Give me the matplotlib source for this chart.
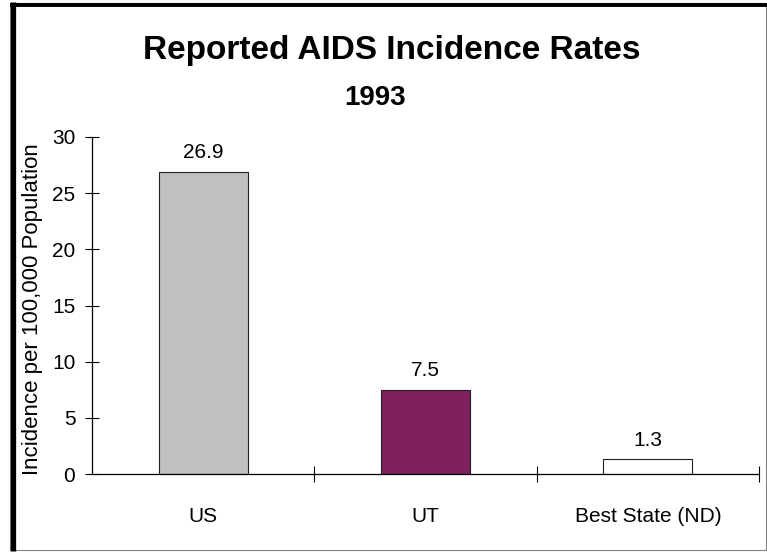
import matplotlib
matplotlib.use("Agg")
import matplotlib.pyplot as plt
from matplotlib.lines import Line2D
from matplotlib.patches import Rectangle

# incidence rates per 100,000 population, 1993
categories = ["US", "UT", "Best State (ND)"]
rates = [26.9, 7.5, 1.3]
bar_colors = ["#C0C0C0", "#80205F", "#FFFFFF"]
y_ticks = [0, 5, 10, 15, 20, 25, 30]

plt.rcParams["font.family"] = ["Liberation Sans", "DejaVu Sans"]

W, H = 767, 552
fig = plt.figure(figsize=(W / 100, H / 100), dpi=100)

# frame around the whole chart: thin outline, heavy left and top edges
fig.patches.append(Rectangle((10 / W, 1 - 550 / H), 756 / W, 547 / H,
                             transform=fig.transFigure, fill=False,
                             edgecolor="#808080", linewidth=0.8))
fig.lines.append(Line2D([12.5 / W, 12.5 / W], [1 - 551 / H, 1 - 2 / H],
                        transform=fig.transFigure, color="black", linewidth=3.8,
                        solid_capstyle="butt"))
fig.lines.append(Line2D([10 / W, 1], [1 - 4.5 / H, 1 - 4.5 / H],
                        transform=fig.transFigure, color="black", linewidth=2.8,
                        solid_capstyle="butt"))

fig.text(392 / W, 1 - 51 / H, "Reported AIDS Incidence Rates",
         ha="center", va="center", fontsize=24, fontweight="bold")
fig.text(375 / W, 1 - 98 / H, "1993",
         ha="center", va="center", fontsize=20, fontweight="bold")

ax = fig.add_axes([92 / W, 1 - 474 / H, (759 - 92) / W, (474 - 137) / H])
x = range(len(categories))
bars = ax.bar(x, rates, width=0.4, color=bar_colors,
              edgecolor="#202020", linewidth=0.8)
for b, v in zip(bars, rates):
    ax.annotate(f"{v}", (b.get_x() + b.get_width() / 2, v),
                xytext=(0, 7), textcoords="offset points",
                ha="center", va="bottom", fontsize=15)

ax.set_xlim(-0.5, 2.5)
ax.set_ylim(0, 30)
ax.set_yticks(y_ticks)
ax.set_xticks(list(x))
ax.set_xticklabels(categories, fontsize=15)
ax.set_xticks([0.5, 1.5, 2.5], minor=True)
ax.tick_params(axis="x", which="major", length=0, pad=24)
ax.tick_params(axis="x", which="minor", direction="inout", length=12, width=0.8)
ax.tick_params(axis="y", direction="inout", length=10, width=0.8,
               labelsize=15, pad=7)
for s in ["top", "right"]:
    ax.spines[s].set_visible(False)
for s in ["left", "bottom"]:
    ax.spines[s].set_linewidth(0.9)

ax.set_ylabel("Incidence per 100,000 Population", fontsize=16)
ax.yaxis.set_label_coords(-49 / (759 - 92), 0.49)
ax.patch.set_alpha(0)

fig.savefig("out.png", dpi=100)
